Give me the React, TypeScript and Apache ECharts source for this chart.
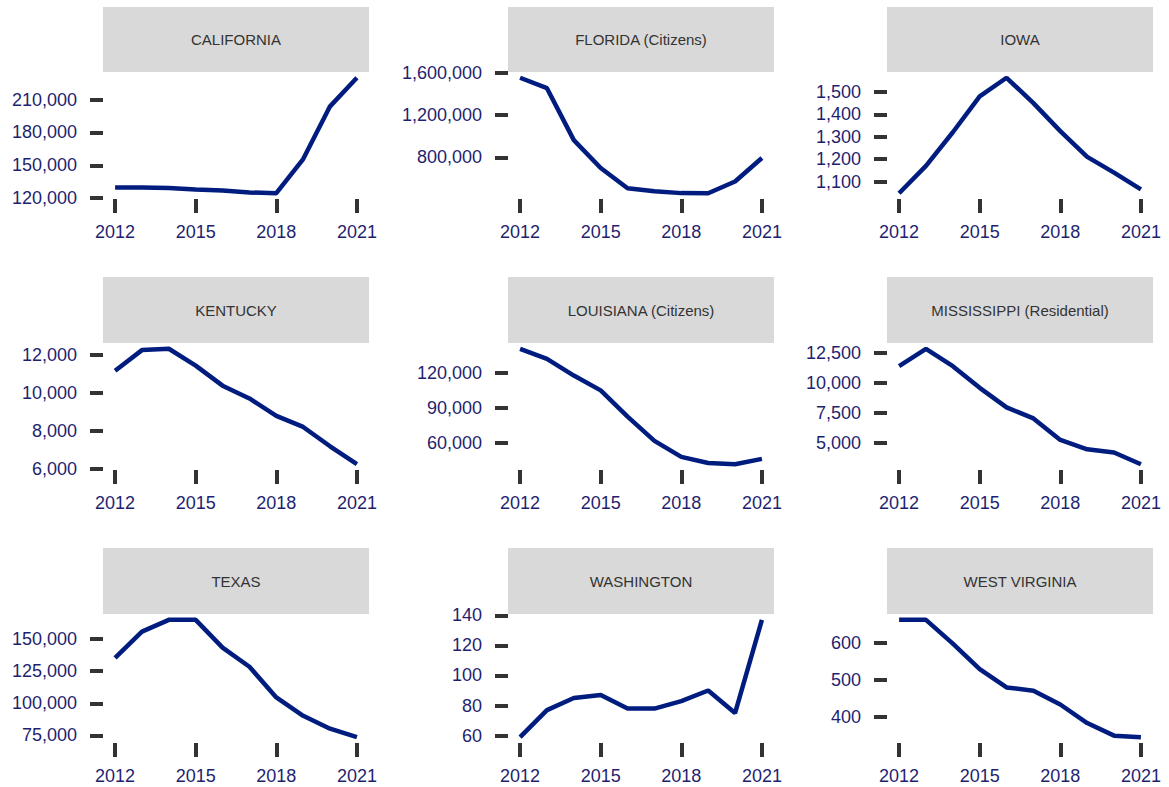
import React, { useEffect, useRef } from "react";
import * as echarts from "echarts";

// Policy counts by state, 2012–2021
const YEARS = [2012, 2013, 2014, 2015, 2016, 2017, 2018, 2019, 2020, 2021];
const X_TICKS = [2012, 2015, 2018, 2021];

const PANEL_TITLES = [
  "CALIFORNIA",
  "FLORIDA (Citizens)",
  "IOWA",
  "KENTUCKY",
  "LOUISIANA (Citizens)",
  "MISSISSIPPI (Residential)",
  "TEXAS",
  "WASHINGTON",
  "WEST VIRGINIA",
];

const california = [129800, 129800, 129300, 128000, 127000, 125200, 124500, 155700, 203900, 230000];
const florida = [1555000, 1456000, 963000, 698000, 506000, 478000, 460000, 459000, 570000, 794000];
const iowa = [1048, 1170, 1320, 1480, 1563, 1450, 1325, 1210, 1140, 1065];
const kentucky = [11150, 12230, 12300, 11420, 10370, 9700, 8790, 8210, 7200, 6260];
const louisiana = [140700, 132100, 117700, 105000, 82500, 61700, 47900, 42700, 41600, 46200];
const mississippi = [11400, 12830, 11390, 9590, 7970, 7060, 5270, 4500, 4230, 3260];
const texas = [135400, 155800, 165000, 165000, 143400, 128500, 104600, 90300, 80300, 73700];
const washington = [59, 77, 85, 87, 78, 78, 83, 90, 75, 137];
const westVirginia = [662, 662, 598, 529, 480, 471, 434, 384, 350, 346];

const SERIES_VALUES = [
  california,
  florida,
  iowa,
  kentucky,
  louisiana,
  mississippi,
  texas,
  washington,
  westVirginia,
];

const californiaTicks = [120000, 150000, 180000, 210000];
const floridaTicks = [800000, 1200000, 1600000];
const iowaTicks = [1100, 1200, 1300, 1400, 1500];
const kentuckyTicks = [6000, 8000, 10000, 12000];
const louisianaTicks = [60000, 90000, 120000];
const mississippiTicks = [5000, 7500, 10000, 12500];
const texasTicks = [75000, 100000, 125000, 150000];
const washingtonTicks = [60, 80, 100, 120, 140];
const westVirginiaTicks = [400, 500, 600];

const Y_TICKS = [
  californiaTicks,
  floridaTicks,
  iowaTicks,
  kentuckyTicks,
  louisianaTicks,
  mississippiTicks,
  texasTicks,
  washingtonTicks,
  westVirginiaTicks,
];

// Facet layout (pixels)
const COL_LEFT = [103, 508, 887];
const PANEL_W = 266;
const ROW_TOP = [72, 343, 614];
const ROW_H = [127, 127, 129];
const STRIP_TOP = [7, 277, 548];

const FONT = "'Liberation Sans', Arial, Helvetica, sans-serif";
const LINE_COLOR = "#001c7f";
const LABEL_COLOR = "#1f1f70";
const TICK_COLOR = "#333333";

function buildOption(): echarts.EChartsOption {
  const grids: any[] = [];
  const xAxes: any[] = [];
  const yAxes: any[] = [];
  const series: any[] = [];
  const graphics: any[] = [];

  SERIES_VALUES.forEach((vals, i) => {
    const col = i % 3;
    const row = Math.floor(i / 3);
    const left = COL_LEFT[col];
    const top = ROW_TOP[row];
    const height = ROW_H[row];

    grids.push({ left, top, width: PANEL_W, height, containLabel: false });

    const xPad = (YEARS[YEARS.length - 1] - YEARS[0]) * 0.05;
    xAxes.push({
      type: "value",
      gridIndex: i,
      min: YEARS[0] - xPad,
      max: YEARS[YEARS.length - 1] + xPad,
      axisLine: { show: false },
      splitLine: { show: false },
      axisTick: {
        show: true,
        customValues: X_TICKS,
        length: 14,
        lineStyle: { color: TICK_COLOR, width: 4 },
      },
      axisLabel: {
        show: true,
        customValues: X_TICKS,
        margin: 24,
        fontSize: 18,
        fontFamily: FONT,
        color: LABEL_COLOR,
        formatter: (v: number) => String(v),
      },
    });

    const lo = Math.min(...vals);
    const hi = Math.max(...vals);
    const yPad = (hi - lo) * 0.05;
    yAxes.push({
      type: "value",
      gridIndex: i,
      min: lo - yPad,
      max: hi + yPad,
      axisLine: { show: false },
      splitLine: { show: false },
      axisTick: {
        show: true,
        customValues: Y_TICKS[i],
        length: 13,
        lineStyle: { color: TICK_COLOR, width: 4 },
      },
      axisLabel: {
        show: true,
        customValues: Y_TICKS[i],
        margin: 26,
        fontSize: 18,
        fontFamily: FONT,
        color: LABEL_COLOR,
        formatter: (v: number) => v.toLocaleString("en-US"),
      },
    });

    series.push({
      type: "line",
      xAxisIndex: i,
      yAxisIndex: i,
      data: YEARS.map((y, k) => [y, vals[k]]),
      showSymbol: false,
      symbol: "none",
      lineStyle: { color: LINE_COLOR, width: 4.5 },
      clip: false,
    });

    const stripTop = STRIP_TOP[row];
    const stripH = top - stripTop;
    graphics.push({
      type: "rect",
      shape: { x: left, y: stripTop, width: PANEL_W, height: stripH },
      style: { fill: "#d9d9d9" },
      silent: true,
    });
    graphics.push({
      type: "text",
      x: left + PANEL_W / 2,
      y: stripTop + stripH / 2,
      style: {
        text: PANEL_TITLES[i],
        fill: "#333333",
        fontSize: 15,
        fontFamily: FONT,
        align: "center",
        verticalAlign: "middle",
      },
      silent: true,
    });
  });

  return {
    animation: false,
    backgroundColor: "#ffffff",
    grid: grids,
    xAxis: xAxes,
    yAxis: yAxes,
    series,
    graphic: graphics,
  };
}

export default function App() {
  const ref = useRef<HTMLDivElement | null>(null);

  useEffect(() => {
    if (!ref.current) return;
    const chart = echarts.init(ref.current, undefined, { renderer: "svg" });
    chart.setOption(buildOption());
    return () => {
      chart.dispose();
    };
  }, []);

  return (
    <div
      ref={ref}
      style={{
        position: "fixed",
        left: 0,
        top: 0,
        width: 1169,
        height: 787,
        background: "#ffffff",
      }}
    />
  );
}
